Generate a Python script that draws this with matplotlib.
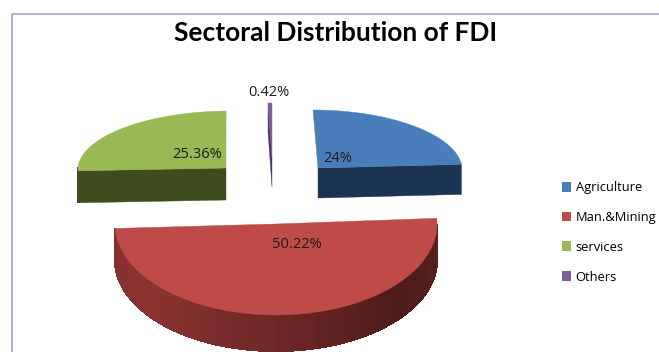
# -*- coding: utf-8 -*-
import matplotlib
matplotlib.use("Agg")
import matplotlib.pyplot as plt
from matplotlib.patches import Polygon, Patch
import numpy as np

# datos del grafico
sectores = ["Agriculture", "Man.&Mining", "services", "Others"]
valores = [24, 50.22, 25.36, 0.42]
etiquetas = ["24%", "50.22%", "25.36%", "0.42%"]

colores = ["#4A7EBB", "#BE4B48", "#98B954", "#7D5FA0"]
laterales = ["#1C3354", "#5A2120", "#3F4D1E", "#4B3663"]

# centro (x, y), radios, inclinacion y profundidad de cada porcion, en pixeles
centros = [(318, 168), (276, 224), (226, 168), (272, 158)]
radios = [(144, 58), (161, 91), (148, 57), (150, 55)]
inclinacion = [0.086, 0.0, -0.07, 0.0]
profundidad = [30, 36, 32, 29]
pos_etiquetas = [(338, 159), (297, 245), (197, 155), (269, 92)]


def punto(c, r, s, t):
    dy = -r[1] * np.cos(t)
    return c[0] + r[0] * np.sin(t) + s * dy, c[1] + dy


def sombra_pared(t, base):
    # el lateral de la porcion grande va de claro (izquierda) a oscuro (derecha)
    f = np.interp(np.degrees(t), [90, 130, 180, 230, 270], [1.0, 0.85, 1.2, 1.55, 1.45])
    rgb = np.array(matplotlib.colors.to_rgb(base))
    return np.clip(rgb * f, 0, 1)


fig = plt.figure(figsize=(6.59, 3.52), dpi=100)
ax = fig.add_axes([0, 0, 1, 1])
ax.set_xlim(0, 659)
ax.set_ylim(352, 0)
ax.axis("off")

# borde del grafico
ax.plot([11.5, 11.5, 659], [352, 13.5, 13.5], color="#ABA6DE", lw=1.3)

angulos = np.radians(np.concatenate([[0], np.cumsum(valores)]) * 3.6)

for i in range(len(valores)):
    t0, t1 = angulos[i], angulos[i + 1]
    c, r, s, h = centros[i], radios[i], inclinacion[i], profundidad[i]
    ts = np.linspace(t0, t1, 181)
    arco = [punto(c, r, s, t) for t in ts]

    # caras de corte visibles
    for t, normal in ((t0, t0 - np.pi / 2), (t1, t1 + np.pi / 2)):
        if np.cos(normal) < 0:
            x, y = punto(c, r, s, t)
            ax.add_patch(Polygon([c, (x, y), (x, y + h), (c[0], c[1] + h)],
                                 fc=laterales[i], ec=laterales[i], lw=0.3))

    # pared exterior
    for k in range(len(ts) - 1):
        if np.cos(ts[k]) < 0:
            x0, y0 = arco[k]
            x1, y1 = arco[k + 1]
            col = sombra_pared(ts[k], laterales[i]) if i == 1 else laterales[i]
            ax.add_patch(Polygon([(x0, y0), (x1, y1), (x1, y1 + h), (x0, y0 + h)],
                                 fc=col, ec=col, lw=0.8, antialiased=False))

    # cara superior
    ax.add_patch(Polygon([c] + arco, fc=colores[i], ec=colores[i], lw=0.3))

    ax.text(pos_etiquetas[i][0], pos_etiquetas[i][1], etiquetas[i], ha="center", va="center",
            fontsize=10.5, family="Open Sans", color="#1A1A1A")

ax.text(336, 33, "Sectoral Distribution of FDI", ha="center", va="center",
        fontsize=19, fontweight="bold", family="Lato", color="black")

ax.legend(handles=[Patch(fc=col, label=s) for col, s in zip(colores, sectores)],
          loc="upper left", bbox_to_anchor=(557, 176), bbox_transform=ax.transData,
          frameon=False, prop={"family": "Open Sans", "size": 9.3},
          handlelength=0.65, handleheight=0.8, handletextpad=0.4, labelspacing=1.3,
          borderpad=0.4, borderaxespad=0)

fig.savefig("out.png", dpi=100)
